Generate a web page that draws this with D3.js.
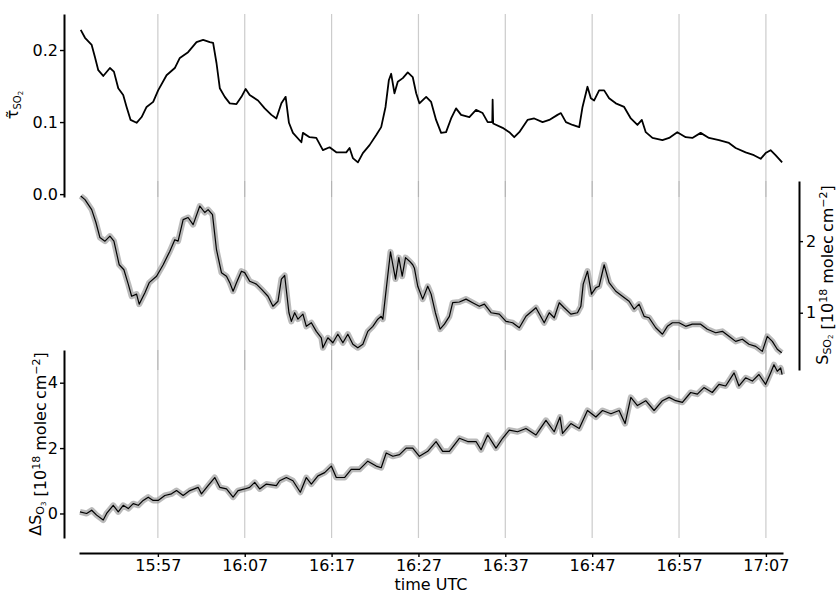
<!DOCTYPE html>
<html>
<head>
<meta charset="utf-8">
<script src="https://cdn.jsdelivr.net/npm/d3@7"></script>
<style>
body { margin: 0; background: #fff; }
svg text { font-family: "DejaVu Sans", sans-serif; fill: #000; }
</style>
</head>
<body>
<div id="chart"></div>
<script>
// time is minutes after 15:00 UTC
var tauTime = [48.12,48.61,49.38,49.76,50.14,50.71,51.48,51.94,52.44,53.01,53.40,53.86,54.55,55.13,55.70,56.46,57.03,58.00,58.95,59.53,60.48,61.45,62.21,62.98,63.36,63.75,64.13,64.70,65.28,66.05,66.62,67.11,67.57,68.53,69.30,70.07,70.64,71.22,71.71,72.09,72.55,73.52,73.70,74.47,75.24,76.00,76.77,77.54,78.69,79.07,79.45,80.03,80.60,81.37,82.14,82.71,83.21,83.59,83.86,84.24,84.62,85.20,85.77,86.34,86.74,87.11,87.89,88.46,89.03,89.61,90.18,90.76,91.33,91.91,92.86,93.63,94.39,94.97,95.50,95.54,95.60,96.69,97.46,98.03,98.61,99.56,100.33,101.29,102.06,103.01,103.40,103.98,104.74,105.51,105.89,106.46,106.85,107.23,107.80,108.38,108.95,109.72,110.68,111.45,112.21,112.72,113.17,113.94,115.09,115.86,116.80,117.77,118.53,119.49,120.45,121.60,122.75,123.52,124.67,125.62,126.40,126.97,127.54,128.11,128.87];
var tauValue = [0.228,0.217,0.207,0.190,0.172,0.164,0.175,0.170,0.147,0.1375,0.121,0.103,0.099,0.107,0.121,0.128,0.144,0.165,0.175,0.189,0.197,0.211,0.214,0.211,0.210,0.182,0.147,0.135,0.126,0.125,0.135,0.146,0.1375,0.130,0.119,0.110,0.105,0.126,0.135,0.099,0.085,0.072,0.085,0.079,0.078,0.061,0.065,0.058,0.058,0.064,0.050,0.044,0.057,0.068,0.082,0.093,0.121,0.158,0.167,0.140,0.156,0.161,0.169,0.1625,0.140,0.126,0.135,0.128,0.103,0.085,0.086,0.105,0.119,0.110,0.107,0.117,0.1125,0.100,0.100,0.131,0.098,0.092,0.086,0.079,0.086,0.103,0.105,0.100,0.103,0.110,0.1125,0.100,0.096,0.093,0.121,0.149,0.133,0.130,0.144,0.144,0.133,0.126,0.121,0.105,0.096,0.103,0.086,0.078,0.075,0.078,0.086,0.079,0.078,0.085,0.078,0.075,0.071,0.064,0.058,0.054,0.049,0.057,0.061,0.054,0.044];

var so2Time = [48.12,48.61,49.38,49.87,50.33,50.91,51.48,51.94,52.55,53.09,53.59,53.98,54.55,54.85,55.51,56.00,56.85,57.61,58.38,58.95,59.33,59.91,60.48,61.06,61.83,62.40,62.78,63.29,63.75,64.32,64.90,65.28,65.66,66.05,66.62,67.00,67.57,68.34,68.92,69.68,70.25,70.83,71.22,71.60,72.09,72.37,72.75,73.13,73.70,74.09,74.67,75.24,75.82,76.00,76.57,77.15,77.72,78.30,78.87,79.45,80.02,80.60,81.17,81.75,82.32,82.71,82.90,83.29,83.78,84.36,84.74,85.13,85.51,85.97,86.34,86.54,86.92,87.49,88.07,88.46,88.95,89.49,89.99,90.56,90.94,91.71,92.48,93.24,94.01,94.59,95.36,96.31,97.08,97.84,98.61,99.38,100.53,101.48,102.06,102.63,103.21,103.78,104.55,105.31,105.70,105.97,106.46,106.92,107.43,107.80,108.38,108.95,109.72,110.48,111.25,111.83,112.40,112.98,113.55,114.32,115.09,115.66,116.24,117.01,117.77,118.53,119.49,120.26,121.22,121.99,122.75,123.52,124.29,125.05,125.83,126.59,127.16,127.74,128.31,128.82];
var so2Value = [2.63,2.58,2.44,2.26,2.05,2.00,2.07,2.00,1.67,1.60,1.40,1.23,1.26,1.12,1.28,1.42,1.51,1.67,1.86,2.02,2.00,2.30,2.33,2.23,2.49,2.40,2.44,2.37,1.88,1.56,1.51,1.42,1.30,1.42,1.58,1.56,1.44,1.40,1.33,1.23,1.09,1.16,1.47,1.52,1.00,0.88,1.00,0.91,0.98,0.81,0.86,0.74,0.65,0.51,0.65,0.58,0.70,0.58,0.70,0.56,0.51,0.56,0.74,0.81,0.91,0.95,0.91,1.33,1.85,1.47,1.77,1.51,1.77,1.72,1.67,1.62,1.37,1.19,1.37,1.26,1.00,0.77,0.84,0.95,1.14,1.15,1.19,1.14,1.09,1.12,1.00,0.98,0.88,0.86,0.79,0.95,1.07,0.86,1.00,0.93,1.14,1.07,0.98,1.00,1.09,1.40,1.58,1.26,1.35,1.37,1.67,1.42,1.30,1.23,1.16,1.05,1.12,0.95,0.93,0.79,0.70,0.81,0.86,0.86,0.81,0.84,0.84,0.77,0.72,0.74,0.67,0.60,0.63,0.56,0.53,0.46,0.67,0.60,0.49,0.44];

var o3Time = [48.03,48.80,49.38,49.95,50.71,51.10,51.86,52.44,53.01,53.59,54.16,54.74,55.31,55.89,56.46,57.03,57.80,58.57,59.15,59.91,60.68,61.63,62.02,62.78,63.55,64.13,64.90,65.66,66.23,67.00,67.57,68.15,68.72,69.49,70.64,71.02,71.79,72.55,73.40,74.09,74.67,75.43,76.20,76.97,77.54,78.49,79.26,80.22,81.17,82.14,82.71,83.29,84.05,84.82,85.59,86.34,87.11,88.07,89.03,89.79,90.56,91.71,92.67,93.63,94.21,94.97,95.93,96.69,97.46,98.41,99.38,100.53,100.91,101.68,102.63,103.30,103.59,104.55,105.51,106.46,107.43,108.19,109.16,110.10,110.79,111.45,112.21,113.17,114.13,115.09,115.86,116.62,117.39,118.34,119.11,119.87,120.83,121.60,122.37,123.34,123.90,124.67,125.44,126.20,126.97,127.54,127.93,128.31,128.70,128.87];
var o3Value = [0.05,0.00,0.10,-0.05,-0.20,0.00,0.25,0.05,0.25,0.15,0.30,0.25,0.40,0.50,0.40,0.40,0.55,0.60,0.70,0.55,0.70,0.80,0.60,0.85,1.10,0.80,0.75,0.50,0.70,0.75,0.80,0.95,0.75,0.90,0.85,1.00,1.10,1.00,0.65,1.10,0.90,1.15,1.25,1.45,1.10,1.10,1.35,1.35,1.60,1.45,1.40,1.85,1.75,1.80,2.00,2.00,1.75,1.90,2.20,1.90,1.90,2.30,2.20,2.20,1.95,2.40,2.00,2.30,2.55,2.50,2.60,2.40,2.55,2.85,2.50,2.95,2.45,2.75,2.60,3.15,2.95,3.15,3.05,3.15,2.75,3.55,3.30,3.45,3.15,3.45,3.55,3.45,3.40,3.70,3.65,3.85,3.70,3.95,3.90,4.30,3.90,4.15,4.05,4.25,3.95,4.30,4.55,4.35,4.45,4.25];

var timeTicks = [57, 67, 77, 87, 97, 107, 117, 127];
var tauTicks = [0.0, 0.1, 0.2];
var so2Ticks = [1, 2];
var o3Ticks = [0, 2, 4];

var svgWidth = 838;
var svgHeight = 593;
var fontSize = 16;

var svg = d3.select("#chart")
  .append("svg")
  .attr("width", svgWidth)
  .attr("height", svgHeight);

var x = d3.scaleLinear().domain([47.92, 128.97]).range([79, 783]);
var yTau = d3.scaleLinear().domain([-0.004, 0.25]).range([197, 14]);
var ySo2 = d3.scaleLinear().domain([0.2, 2.84]).range([370, 181]);
var yO3 = d3.scaleLinear().domain([-0.75, 5]).range([538, 350]);

function timeLabel(m) {
  var h = 15 + Math.floor(m / 60);
  var mm = m % 60;
  return h + ":" + (mm < 10 ? "0" : "") + mm;
}

// grid lines, one set per panel (overlaps come out darker)
[yTau, ySo2, yO3].forEach(function(ys) {
  svg.append("g")
    .selectAll("line")
    .data(timeTicks)
    .enter()
    .append("line")
    .attr("x1", d => x(d))
    .attr("x2", d => x(d))
    .attr("y1", ys.range()[0])
    .attr("y2", ys.range()[1])
    .attr("stroke", "#9a9a9a")
    .attr("stroke-opacity", 0.5)
    .attr("stroke-width", 1.2);
});

function drawSeries(times, values, ys, band, width) {
  var pts = times.map((t, i) => [t, values[i]]);
  var line = d3.line().x(d => x(d[0])).y(d => ys(d[1]));
  if (band) {
    svg.append("path")
      .attr("d", line(pts))
      .attr("fill", "none")
      .attr("stroke", "#8c8c8c")
      .attr("stroke-opacity", 0.6)
      .attr("stroke-width", 6)
      .attr("stroke-linejoin", "round");
  }
  svg.append("path")
    .attr("d", line(pts))
    .attr("fill", "none")
    .attr("stroke", "#000")
    .attr("stroke-width", width)
    .attr("stroke-linejoin", "round");
}

drawSeries(tauTime, tauValue, yTau, false, 1.8);
drawSeries(so2Time, so2Value, ySo2, true, 1.2);
drawSeries(o3Time, o3Value, yO3, true, 1.2);

function styleAxis(g) {
  g.select(".domain").attr("stroke-width", 2);
  g.selectAll(".tick line").attr("stroke-width", 1.4);
  g.selectAll("text").attr("font-size", fontSize).attr("font-family", "DejaVu Sans");
}

var tauAxis = svg.append("g")
  .attr("transform", "translate(64,0)")
  .call(d3.axisLeft(yTau).tickValues(tauTicks).tickFormat(d3.format(".1f"))
    .tickSize(4).tickSizeOuter(0).tickPadding(2));
styleAxis(tauAxis);

var o3Axis = svg.append("g")
  .attr("transform", "translate(64,0)")
  .call(d3.axisLeft(yO3).tickValues(o3Ticks).tickFormat(d3.format("d"))
    .tickSize(4).tickSizeOuter(0).tickPadding(2));
styleAxis(o3Axis);

var so2Axis = svg.append("g")
  .attr("transform", "translate(799,0)")
  .call(d3.axisRight(ySo2).tickValues(so2Ticks).tickFormat(d3.format("d"))
    .tickSize(4).tickSizeOuter(0).tickPadding(3));
styleAxis(so2Axis);

var xAxis = svg.append("g")
  .attr("transform", "translate(0,553)")
  .call(d3.axisBottom(x).tickValues(timeTicks).tickFormat(timeLabel)
    .tickSize(4).tickSizeOuter(0).tickPadding(3));
styleAxis(xAxis);

svg.append("text")
  .attr("x", 431)
  .attr("y", 590)
  .attr("text-anchor", "middle")
  .attr("font-size", fontSize)
  .text("time UTC");

// rotated axis labels with sub/superscripts
function unitsLabel(sel) {
  sel.append("tspan").text(" [10");
  sel.append("tspan").attr("dy", -6).attr("font-size", 11).text("18");
  sel.append("tspan").attr("dy", 6).text(" molec\u2009cm");
  sel.append("tspan").attr("dy", -6).attr("font-size", 11).text("\u22122");
  sel.append("tspan").attr("dy", 6).text("]");
}

var tauLabel = svg.append("text")
  .attr("transform", "translate(18,105) rotate(-90)")
  .attr("text-anchor", "middle")
  .attr("font-size", fontSize);
tauLabel.append("tspan").text("\u03C4\u0303");
tauLabel.append("tspan").attr("dy", 3).attr("font-size", 10).text("SO");
tauLabel.append("tspan").attr("dy", 2).attr("font-size", 7).text("2");

var o3Label = svg.append("text")
  .attr("transform", "translate(41,444) rotate(-90)")
  .attr("text-anchor", "middle")
  .attr("font-size", fontSize);
o3Label.append("tspan").text("\u0394S");
o3Label.append("tspan").attr("dy", 3).attr("font-size", 11).text("O");
o3Label.append("tspan").attr("dy", 2).attr("font-size", 7).text("3");
o3Label.append("tspan").attr("dy", -5).text("");
unitsLabel(o3Label);

var so2Label = svg.append("text")
  .attr("transform", "translate(828,275) rotate(-90)")
  .attr("text-anchor", "middle")
  .attr("font-size", fontSize);
so2Label.append("tspan").text("S");
so2Label.append("tspan").attr("dy", 3).attr("font-size", 11).text("SO");
so2Label.append("tspan").attr("dy", 1.5).attr("font-size", 7).text("2");
so2Label.append("tspan").attr("dy", -4.5).text("");
unitsLabel(so2Label);
</script>
</body>
</html>
